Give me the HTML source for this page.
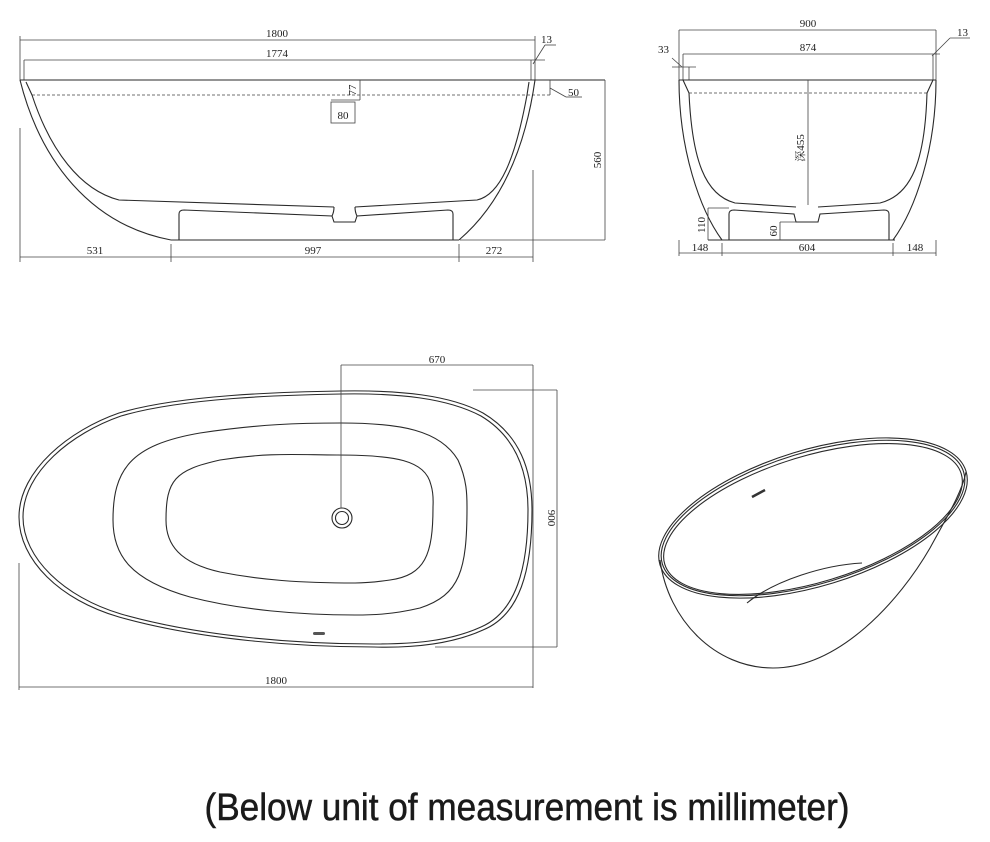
<!DOCTYPE html>
<html><head><meta charset="utf-8"><style>
html,body{margin:0;padding:0;background:#fff}
svg{display:block}
.l{fill:none;stroke:#2a2a2a;stroke-width:1.1}
.d{fill:none;stroke:#444;stroke-width:0.8}
.t{font-family:"Liberation Serif",serif;font-size:11px;fill:#222}
</style></head><body>
<svg width="990" height="842" viewBox="0 0 990 842" xmlns="http://www.w3.org/2000/svg">
<!-- TOP LEFT side view -->
<g>
<line class="d" x1="20" y1="40" x2="535" y2="40"/>
<line class="d" x1="20" y1="36" x2="20" y2="80"/>
<line class="d" x1="535" y1="36" x2="535" y2="80"/>
<text class="t" x="277" y="37" text-anchor="middle">1800</text>
<line class="d" x1="24" y1="60" x2="545" y2="60"/>
<line class="d" x1="24" y1="60" x2="24" y2="80"/>
<line class="d" x1="531" y1="60" x2="531" y2="80"/>
<text class="t" x="277" y="57" text-anchor="middle">1774</text>
<line class="d" x1="533" y1="64" x2="545" y2="45"/><line class="d" x1="545" y1="45" x2="556" y2="45"/>
<text class="t" x="541" y="43">13</text>
<line class="l" x1="20" y1="80" x2="605" y2="80"/>
<line class="d" x1="32" y1="95" x2="550" y2="95" stroke-dasharray="3,2"/>
<line class="d" x1="550" y1="80" x2="550" y2="95"/>
<line class="d" x1="550" y1="88" x2="566" y2="97"/><line class="d" x1="566" y1="97" x2="582" y2="97"/>
<text class="t" x="568" y="96">50</text>
<line class="d" x1="360" y1="80" x2="360" y2="100"/>
<line class="d" x1="331" y1="100" x2="360" y2="100"/>
<text class="t" transform="translate(356,90) rotate(-90)" text-anchor="middle">77</text>
<rect class="d" x="331" y="102" width="24" height="21"/>
<text class="t" x="343" y="119" text-anchor="middle">80</text>
<path class="l" d="M20,80 C40,160 90,225 171,240"/>
<path class="l" d="M535,80 C525,150 500,205 459,240"/>
<path class="l" d="M26,82 L32,95 C50,150 80,190 119,200 L334,207"/>
<path class="l" d="M529,82 L527,95 C515,160 500,195 477,200 L355,207"/>
<line class="l" x1="171" y1="240" x2="459" y2="240"/>
<path class="l" d="M179,240 L179,214 Q179,210 184,210 L332,216 L334,222 L355,222 L357,216 L448,210 Q453,210 453,214 L453,240"/>
<path class="l" d="M332,216 Q334,212 334,207 M357,216 Q355,212 355,207"/>
<line class="d" x1="20" y1="128" x2="20" y2="262"/>
<line class="d" x1="171" y1="244" x2="171" y2="262"/>
<line class="d" x1="459" y1="244" x2="459" y2="262"/>
<line class="d" x1="533" y1="170" x2="533" y2="262"/>
<line class="d" x1="20" y1="257" x2="533" y2="257"/>
<line class="d" x1="460" y1="240" x2="605" y2="240"/>
<line class="d" x1="605" y1="80" x2="605" y2="240"/>
<text class="t" transform="translate(601,160) rotate(-90)" text-anchor="middle">560</text>
<text class="t" x="95" y="254" text-anchor="middle">531</text>
<text class="t" x="313" y="254" text-anchor="middle">997</text>
<text class="t" x="494" y="254" text-anchor="middle">272</text>
</g>
<!-- TOP RIGHT end view -->
<g>
<line class="d" x1="679" y1="30" x2="936" y2="30"/>
<line class="d" x1="679" y1="30" x2="679" y2="80"/>
<line class="d" x1="936" y1="30" x2="936" y2="80"/>
<text class="t" x="808" y="27" text-anchor="middle">900</text>
<line class="d" x1="683" y1="54" x2="940" y2="54"/>
<line class="d" x1="683" y1="54" x2="683" y2="80"/>
<line class="d" x1="933" y1="54" x2="933" y2="80"/>
<text class="t" x="808" y="51" text-anchor="middle">874</text>
<line class="d" x1="932" y1="56" x2="950" y2="38"/><line class="d" x1="950" y1="38" x2="970" y2="38"/>
<text class="t" x="957" y="36">13</text>
<line class="d" x1="672" y1="67" x2="696" y2="67"/>
<line class="d" x1="689" y1="67" x2="689" y2="80"/>
<line class="d" x1="672" y1="58" x2="682" y2="67"/>
<text class="t" x="658" y="53">33</text>
<line class="l" x1="679" y1="80" x2="936" y2="80"/>
<line class="d" x1="689" y1="93" x2="927" y2="93" stroke-dasharray="3,2"/>
<path class="l" d="M679,80 C679,150 700,210 722,240"/>
<path class="l" d="M936,80 C936,150 915,210 893,240"/>
<path class="l" d="M683,80 L689,93 C692,160 705,195 735,203 L796,207"/>
<path class="l" d="M933,80 L927,93 C925,160 912,195 880,203 L818,207"/>
<line class="l" x1="708" y1="240" x2="895" y2="240"/>
<path class="l" d="M729,240 L729,214 Q729,210 734,210 L794,214 L796,222 L818,222 L820,214 L884,210 Q889,210 889,214 L889,240"/>
<path class="d" d="M708,208 L729,208 M708,208 L708,240 M780,222 L780,240 M780,222 L796,222"/>
<line class="d" x1="808" y1="80" x2="808" y2="205"/>
<text class="t" transform="translate(804,148) rotate(-90)" text-anchor="middle" style="font-family:'Liberation Serif','Noto Serif CJK SC',serif">深455</text>
<text class="t" transform="translate(705,225) rotate(-90)" text-anchor="middle">110</text>
<text class="t" transform="translate(777,231) rotate(-90)" text-anchor="middle">60</text>
<line class="d" x1="679" y1="253" x2="936" y2="253"/>
<line class="d" x1="679" y1="240" x2="679" y2="256"/>
<line class="d" x1="722" y1="243" x2="722" y2="256"/>
<line class="d" x1="893" y1="243" x2="893" y2="256"/>
<line class="d" x1="936" y1="240" x2="936" y2="256"/>
<text class="t" x="700" y="251" text-anchor="middle">148</text>
<text class="t" x="807" y="251" text-anchor="middle">604</text>
<text class="t" x="915" y="251" text-anchor="middle">148</text>
</g>
<!-- PLAN view -->
<g>
<path class="l" d="M19,517 C19,470 70,430 119,413 C180,395 280,392 341,391 C400,390 450,395 483,413 C520,435 532,470 532,510 C532,570 520,615 483,630 C450,645 410,648 374,647 C300,647 200,640 119,617 C60,600 19,560 19,517 Z"/>
<path class="l" d="M23,517 C23,472 72,433 121,416 C182,398 282,395 341,394 C398,393 447,398 481,416 C516,437 528,472 528,510 C528,568 516,612 481,627 C448,642 410,644 374,644 C300,644 202,637 121,614 C64,597 23,558 23,517 Z"/>
<path class="l" d="M113,520 C113,470 130,445 200,433 C260,424 300,423 341,423 C400,423 440,430 458,460 C467,480 467,495 467,507 C467,570 460,595 420,608 C390,615 370,615 355,615 C300,615 240,610 190,597 C130,580 113,555 113,520 Z"/>
<path class="l" d="M166,520 C166,480 175,470 220,460 C270,452 300,455 337,455 C395,455 425,460 431,485 C434,495 433,505 433,507 C433,555 425,575 390,580 C370,583 360,583 355,583 C300,583 260,580 220,572 C180,563 166,545 166,520 Z"/>
<circle class="l" cx="342" cy="518" r="10"/>
<circle class="l" cx="342" cy="518" r="6.5"/>
<rect x="313" y="632" width="12" height="3" rx="1.5" fill="#555"/>
<line class="d" x1="341" y1="365" x2="341" y2="508"/>
<line class="d" x1="341" y1="365" x2="533" y2="365"/>
<text class="t" x="437" y="363" text-anchor="middle">670</text>
<line class="d" x1="533" y1="365" x2="533" y2="688"/>
<line class="d" x1="473" y1="390" x2="557" y2="390"/>
<line class="d" x1="435" y1="647" x2="557" y2="647"/>
<line class="d" x1="557" y1="390" x2="557" y2="647"/>
<text class="t" transform="translate(548,518) rotate(90)" text-anchor="middle">900</text>
<line class="d" x1="19" y1="563" x2="19" y2="690"/>
<line class="d" x1="19" y1="687" x2="533" y2="687"/>
<text class="t" x="276" y="684" text-anchor="middle">1800</text>
</g>
<!-- ISO view -->
<g>
<ellipse class="l" cx="813" cy="518" rx="160" ry="68" transform="rotate(-17 813 518)"/>
<ellipse class="l" cx="813" cy="518" rx="157.5" ry="65.5" transform="rotate(-17 813 518)"/>
<ellipse class="l" cx="813" cy="519" rx="155" ry="63" transform="rotate(-17 813 519)"/>
<path class="l" d="M660,560 C668,620 715,668 773,668 C840,668 900,600 930,548 C948,515 962,492 966,472"/>
<path class="l" d="M747,603 C775,580 825,565 862,563"/>
<line x1="752" y1="497" x2="765" y2="490" stroke="#333" stroke-width="2.5"/>
</g>
<text x="527" y="820" text-anchor="middle" textLength="645" lengthAdjust="spacingAndGlyphs" style="font-family:'Liberation Sans',sans-serif;font-size:38px;fill:#1a1a1a;stroke:#1a1a1a;stroke-width:0.5">(Below unit of measurement is millimeter)</text>
</svg>
</body></html>
